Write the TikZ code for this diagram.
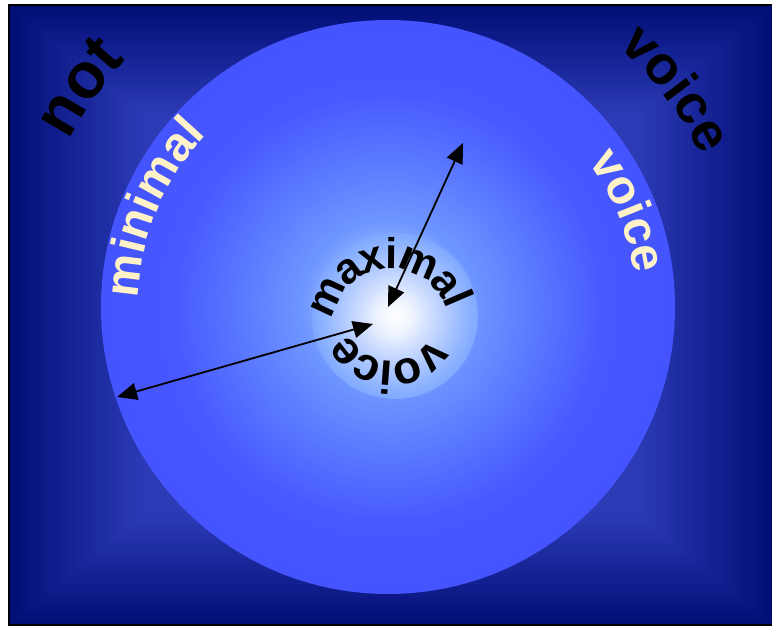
\documentclass[tikz,border=0pt]{standalone}
\usepackage{fontspec}
\setmainfont{Liberation Sans}
\usetikzlibrary{decorations.text,arrows.meta}
\definecolor{navyEdge}{RGB}{2,14,118}
\definecolor{navyMid}{RGB}{44,58,182}
\definecolor{circEdge}{RGB}{68,85,255}
\definecolor{glowA}{RGB}{176,200,255}
\definecolor{glowB}{RGB}{110,150,255}
\definecolor{glowC}{RGB}{90,120,255}
\definecolor{glowD}{RGB}{71,88,255}
\definecolor{innerA}{RGB}{240,244,255}
\definecolor{innerMid}{RGB}{192,212,255}
\definecolor{innerB}{RGB}{146,182,255}
\definecolor{innerEdge}{RGB}{128,168,255}
\definecolor{cream}{RGB}{255,242,200}
\pgfdeclareradialshading{bigglow}{\pgfpointorigin}{color(0bp)=(white); color(3bp)=(glowA); color(7.5bp)=(glowB); color(13bp)=(glowC); color(19bp)=(glowD); color(25bp)=(circEdge); color(50bp)=(circEdge)}
\pgfdeclareradialshading{innerglow}{\pgfpointorigin}{color(0bp)=(white); color(5bp)=(innerA); color(13bp)=(innerMid); color(21bp)=(innerB); color(25bp)=(innerEdge); color(50bp)=(innerEdge)}
\newcommand\fntNot{\bfseries\fontsize{64}{64}\selectfont}
\newcommand\fntBlack{\bfseries\fontsize{54}{54}\selectfont}
\newcommand\fntCream{\bfseries\fontsize{48}{48}\selectfont}
\newcommand\fntMax{\bfseries\fontsize{43}{43}\selectfont}
\newcommand\fntVoc{\bfseries\fontsize{46}{46}\selectfont}
\tikzset{
  arr/.style={line width=1.8pt, {Triangle[length=20pt,width=17pt]}-{Triangle[length=20pt,width=17pt]}},
  frame/.style={line width=2pt, draw=black}
}
\begin{document}
\begin{tikzpicture}[x=1pt,y=1pt]
\useasboundingbox (0,0) rectangle (772,626);
% background: rectangular gradient
\foreach \i in {0,...,40}{
  \pgfmathsetmacro\bgT{\i/40*0.35}
  \pgfmathsetmacro\bgP{\i*2.5}
  \fill[navyMid!\bgP!navyEdge] ({9+\bgT*382},{1+\bgT*310}) rectangle ({773-\bgT*382},{621-\bgT*310});
}
\draw[frame] (9,1) rectangle (776,621);
% circles
\coordinate (C) at (388,319);
\shade[shading=bigglow] (C) circle[radius=287pt];
\coordinate (I) at (395,310);
\shade[shading=innerglow] (I) circle[radius=83pt];
% outer black text
\path[decorate, decoration={text along path, text format delimiters={|}{|}, text={|\fntNot\color{black}|not}}]
  (C) ++(152.5:360pt) arc[start angle=152.5, end angle=110, radius=360pt];
\path[decorate, decoration={text along path, text format delimiters={|}{|}, text={|\fntBlack\color{black}|voice}}]
  (C) ++(48.5:348pt) arc[start angle=48.5, end angle=5, radius=348pt];
% cream text
\path[decorate, decoration={text along path, text format delimiters={|}{|}, text={|\fntCream\color{cream}|minimal}}]
  (C) ++(178:250pt) arc[start angle=178, end angle=120, radius=250pt];
\path[decorate, decoration={text along path, text format delimiters={|}{|}, text={|\fntCream\color{cream}|voice}}]
  (C) ++(36:248pt) arc[start angle=36, end angle=-10, radius=248pt];
% inner text
\coordinate (Tm) at (391,299);
\coordinate (Tv) at (391,310);
\path[decorate, decoration={text along path, raise=-5.9pt, text format delimiters={|}{|}, text={|\fntMax\color{black}|maximal}}]
  (Tm) ++(172:63.9pt) arc[start angle=172, end angle=-5, radius=63.9pt];
\path[decorate, decoration={text along path, raise=-8.5pt, text format delimiters={|}{|}, text={|\fntVoc\color{black}|voice}}]
  (Tv) ++(-30.7:54pt) arc[start angle=-30.7, end angle=-200, radius=54pt];
% arrows
\coordinate (a1) at (463,483);
\coordinate (a2) at (388,319);
\draw[arr] (a1) -- (a2);
\coordinate (b1) at (117,229);
\coordinate (b2) at (373,302);
\draw[arr] (b1) -- (b2);
\end{tikzpicture}
\end{document}
